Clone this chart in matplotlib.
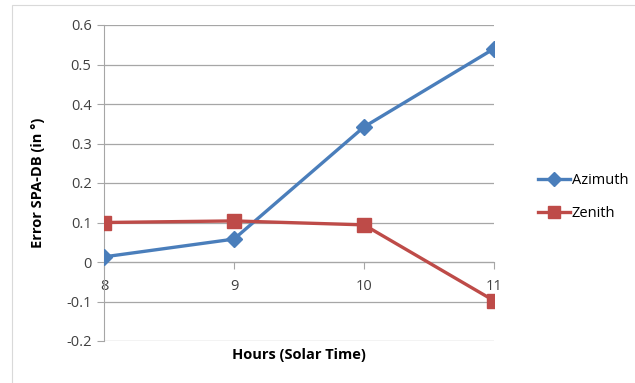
import matplotlib.pyplot as plt
from matplotlib.patches import Rectangle

hours = [8, 9, 10, 11]
azimuth = [0.013, 0.058, 0.342, 0.540]
zenith = [0.100, 0.104, 0.094, -0.098]
y_ticks = [-0.2, -0.1, 0, 0.1, 0.2, 0.3, 0.4, 0.5, 0.6]

BLUE = "#4A7EBB"
RED = "#BE4B48"
GRID = "#A6A6A6"
TEXT = "#404040"

plt.rcParams["font.family"] = ["Open Sans", "DejaVu Sans"]

fig = plt.figure(figsize=(6.35, 3.83), dpi=100)
fig.patches.append(Rectangle((12 / 635, -0.01), 1.0, 1 - 5 / 383 + 0.01,
                             transform=fig.transFigure, fill=False,
                             edgecolor="#D9D9D9", linewidth=0.8))

ax = fig.add_axes([104 / 635, 1 - 341 / 383, 390 / 635, 316 / 383])
ax.plot(hours, azimuth, color=BLUE, linewidth=2.4, marker="D", markersize=8,
        label="Azimuth", zorder=3)
ax.plot(hours, zenith, color=RED, linewidth=2.4, marker="s", markersize=10,
        label="Zenith", zorder=3)

ax.set_xlim(8, 11)
ax.set_ylim(-0.2, 0.6)
ax.set_yticks(y_ticks)
ax.set_yticklabels([f"{v:g}" for v in y_ticks])
ax.set_xticks(hours)

ax.grid(axis="y", color=GRID, linewidth=0.9)
ax.set_axisbelow(True)
for side in ("top", "right"):
    ax.spines[side].set_visible(False)
ax.spines["left"].set_color(GRID)
ax.spines["bottom"].set_position(("data", 0))
ax.spines["bottom"].set_color(GRID)
ax.tick_params(axis="y", length=5, color=GRID, labelsize=10.5, labelcolor=TEXT, pad=4)
ax.tick_params(axis="x", length=5, color=GRID, labelsize=10.5, labelcolor=TEXT,
               direction="out", pad=7)

ax.set_xlabel("Hours (Solar Time)", fontsize=10.5, fontweight="bold", labelpad=0)
ax.xaxis.set_label_coords(0.5, -0.022)
ax.set_ylabel("Error SPA-DB (in °)", fontsize=10.5, fontweight="bold")
ax.yaxis.set_label_coords(-0.152, 0.5)

fig.legend(loc="center left", bbox_to_anchor=(525 / 635, 1 - 197 / 383),
           frameon=False, fontsize=10.5, handlelength=2.2, handletextpad=0.1,
           labelspacing=1.2, markerscale=0.9)

fig.savefig("out.png", dpi=100)
